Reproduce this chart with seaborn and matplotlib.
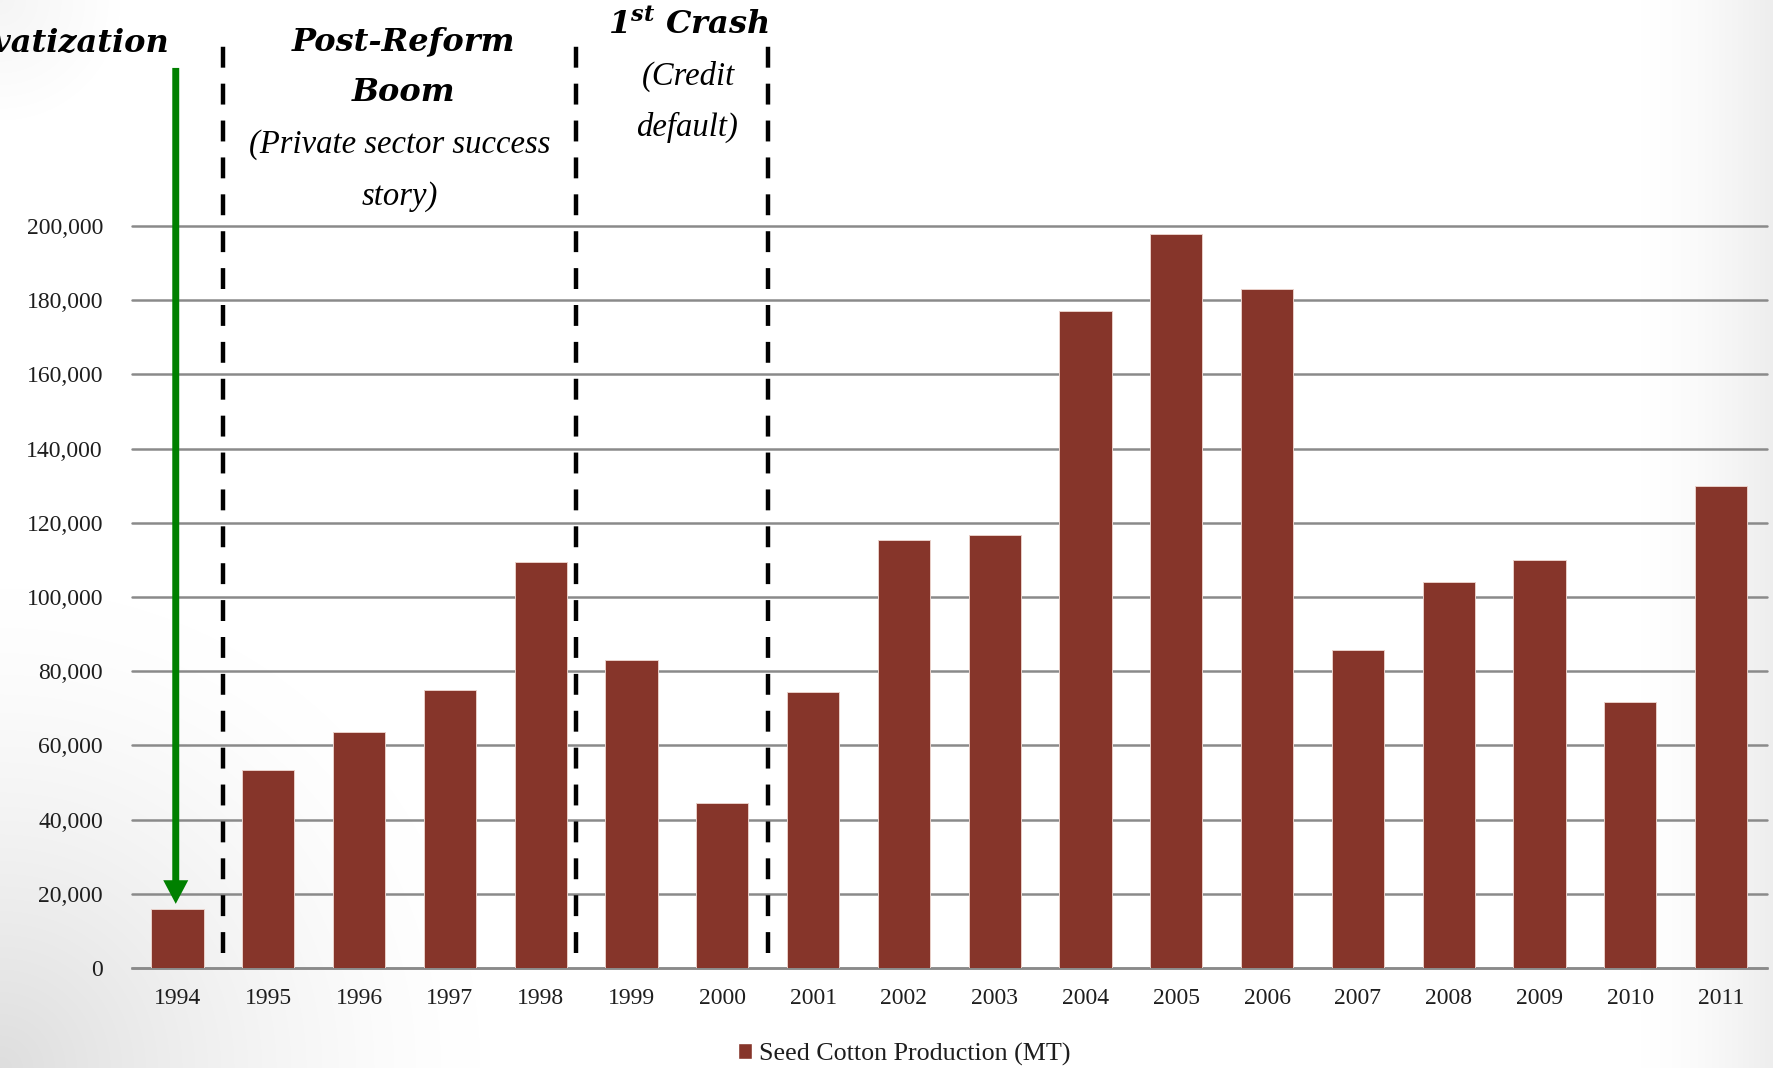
import numpy as np
import pandas as pd
import matplotlib
matplotlib.use("Agg")
import matplotlib.pyplot as plt
from matplotlib.patches import Patch
from matplotlib.ticker import FuncFormatter
import seaborn as sns

# data
years = ["1994", "1995", "1996", "1997", "1998", "1999", "2000", "2001", "2002",
         "2003", "2004", "2005", "2006", "2007", "2008", "2009", "2010", "2011"]
production = [16000, 53500, 63500, 75000, 109500, 83000, 44500, 74500, 115500,
              116700, 177200, 197900, 182900, 85800, 104000, 109900, 71800, 130000]
y_ticks = list(range(0, 200001, 20000))
series_label = "Seed Cotton Production (MT)"

bar_color = "#86352a"
grid_color = "#8a8a8a"
text_color = "#1e1e1e"

sns.set_theme(style="white")
plt.rcParams["font.family"] = ["Liberation Serif", "DejaVu Serif"]
plt.rcParams["mathtext.default"] = "regular"

fig = plt.figure(figsize=(17.74, 10.68), dpi=100)

# soft slide-style background shading
bg = fig.add_axes([0, 0, 1, 1], zorder=-10)
H, W = 1068, 1774
yy, xx = np.mgrid[0:H, 0:W]
shade = np.clip((xx - 1640) / 134, 0, 1) ** 1.5 * 0.07
d_bl = np.sqrt(xx ** 2 + (H - yy) ** 2)
shade = np.maximum(shade, np.clip(1 - d_bl / 480, 0, 1) ** 1.4 * 0.13)
d_tl = np.sqrt(xx ** 2 + yy ** 2)
shade = np.maximum(shade, np.clip(1 - d_tl / 120, 0, 1) * 0.04)
img = np.dstack([1 - shade] * 3)
bg.imshow(img, aspect="auto", extent=[0, 1, 0, 1])
bg.axis("off")

ax = fig.add_axes([0.0745, 0.0936, 0.9213, 0.6948])
ax.patch.set_alpha(0)

df = pd.DataFrame({"year": years, "production": production})
sns.barplot(data=df, x="year", y="production", color=bar_color, saturation=1,
            width=0.575, edgecolor="#e9cfc8", linewidth=0.7, ax=ax, zorder=3)

ax.set_xlim(-0.5, len(years) - 0.5)
ax.set_ylim(0, 200000)
ax.set_yticks(y_ticks)
ax.yaxis.set_major_formatter(FuncFormatter(lambda v, _: f"{int(v):,}"))
ax.set_xlabel("")
ax.set_ylabel("")
ax.grid(axis="y", color=grid_color, lw=1.8, zorder=0)
for gl in ax.yaxis.get_gridlines():
    gl.set_clip_on(False)
for side in ["left", "right", "top"]:
    ax.spines[side].set_visible(False)
ax.spines["bottom"].set_color(grid_color)
ax.spines["bottom"].set_linewidth(1.8)
ax.tick_params(axis="y", length=0, pad=21, labelsize=17, labelcolor=text_color)
ax.tick_params(axis="x", length=0, pad=14.5, labelsize=17, labelcolor=text_color)

# period separators
ax.vlines([0.5, 4.39, 6.5], 4000, 252500, colors="black", lw=3.2,
          linestyles=[(0, (4.7, 3.6))], clip_on=False, zorder=4)

# privatization arrow
ax.annotate("", xy=(-0.02, 17300), xytext=(-0.02, 242600),
            arrowprops=dict(arrowstyle="simple,head_length=1.7,head_width=1.8,tail_width=0.5",
                            color="#008000", lw=0, shrinkA=0, shrinkB=0,
                            mutation_scale=10),
            annotation_clip=False, zorder=5)

head = dict(family="DejaVu Serif", weight="bold", style="italic", size=23,
            color="black")
sub = dict(family="Liberation Serif", style="italic", size=23.5, color="black")

ax.text(-0.085, 249300, "Privatization", ha="right", va="center", clip_on=False, **head)
ax.text(2.49, 249600, "Post-Reform", ha="center", va="center", clip_on=False, **head)
ax.text(2.49, 235900, "Boom", ha="center", va="center", clip_on=False, **head)
ax.text(2.45, 221900, "(Private sector success", ha="center", va="center",
        clip_on=False, **sub)
ax.text(2.45, 207900, "story)", ha="center", va="center", clip_on=False, **sub)
ax.text(5.63, 254200, r"1$^{st}$ Crash", ha="center", va="center", clip_on=False, **head)
ax.text(5.63, 240200, "(Credit", ha="center", va="center", clip_on=False, **sub)
ax.text(5.61, 226500, "default)", ha="center", va="center", clip_on=False, **sub)

fig.legend(handles=[Patch(facecolor=bar_color, label=series_label)],
           loc="center", bbox_to_anchor=(904 / 1774, 1 - 1054 / 1068),
           frameon=False, fontsize=18.7, handlelength=0.55, handleheight=0.55,
           handletextpad=0.25, labelcolor=text_color)

fig.savefig("out.png", dpi=100)
